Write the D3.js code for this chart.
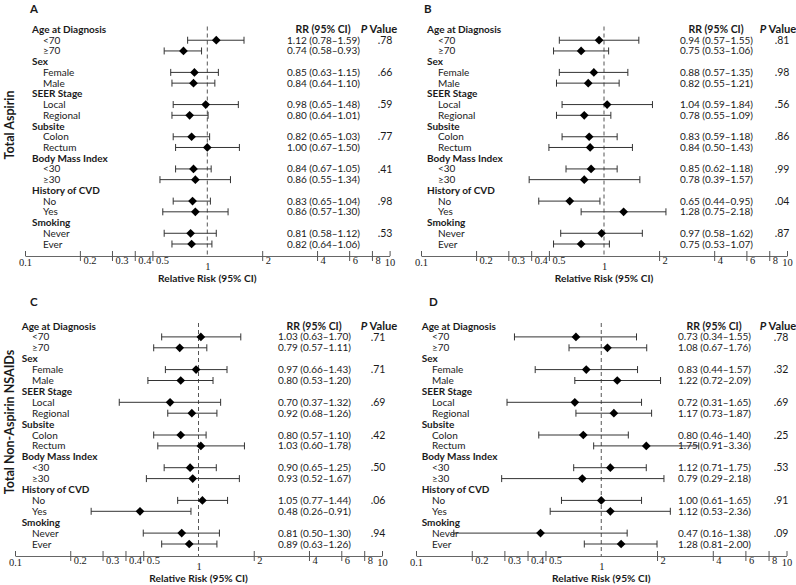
<!DOCTYPE html>
<html><head><meta charset="utf-8">
<script src="https://cdn.jsdelivr.net/npm/d3@7"></script>
<style>
html,body{margin:0;padding:0;background:#fff;}
svg{display:block;}
</style></head>
<body>
<svg id="chart" width="796" height="585"></svg>
<script>
// ---------- DATA ----------
const groups = ["Age at Diagnosis","Sex","SEER Stage","Subsite","Body Mass Index","History of CVD","Smoking"];
const levels = [["<70","≥70"],["Female","Male"],["Local","Regional"],["Colon","Rectum"],["<30","≥30"],["No","Yes"],["Never","Ever"]];

// Panel A: Total Aspirin
const rrA = [1.12,0.74,0.85,0.84,0.98,0.80,0.82,1.00,0.84,0.86,0.83,0.86,0.81,0.82];
const loA = [0.78,0.58,0.63,0.64,0.65,0.64,0.65,0.67,0.67,0.55,0.65,0.57,0.58,0.64];
const hiA = [1.59,0.93,1.15,1.10,1.48,1.01,1.03,1.50,1.05,1.34,1.04,1.30,1.12,1.06];
const pA  = [".78",".66",".59",".77",".41",".98",".53"];

// Panel B: Total Aspirin
const rrB = [0.94,0.75,0.88,0.82,1.04,0.78,0.83,0.84,0.85,0.78,0.65,1.28,0.97,0.75];
const loB = [0.57,0.53,0.57,0.55,0.59,0.55,0.59,0.50,0.62,0.39,0.44,0.75,0.58,0.53];
const hiB = [1.55,1.06,1.35,1.21,1.84,1.09,1.18,1.43,1.18,1.57,0.95,2.18,1.62,1.07];
const pB  = [".81",".98",".56",".86",".99",".04",".87"];

// Panel C: Total Non-Aspirin NSAIDs
const rrC = [1.03,0.79,0.97,0.80,0.70,0.92,0.80,1.03,0.90,0.93,1.05,0.48,0.81,0.89];
const loC = [0.63,0.57,0.66,0.53,0.37,0.68,0.57,0.60,0.65,0.52,0.77,0.26,0.50,0.63];
const hiC = [1.70,1.11,1.43,1.20,1.32,1.26,1.10,1.78,1.25,1.67,1.44,0.91,1.30,1.26];
const pC  = [".71",".71",".69",".42",".50",".06",".94"];

// Panel D: Total Non-Aspirin NSAIDs
const rrD = [0.73,1.08,0.83,1.22,0.72,1.17,0.80,1.75,1.12,0.79,1.00,1.12,0.47,1.28];
const loD = [0.34,0.67,0.44,0.72,0.31,0.73,0.46,0.91,0.71,0.29,0.61,0.53,0.16,0.81];
const hiD = [1.55,1.76,1.57,2.09,1.65,1.87,1.40,3.36,1.75,2.18,1.65,2.36,1.38,2.00];
const pD  = [".78",".32",".69",".25",".53",".91",".09"];

const tickValues = [0.1,0.2,0.3,0.4,0.5,1,2,4,6,8,10];
const tickLabels = ["0.1","0.2","0.3","0.4","0.5","1","2","4","6","8","10"];
const sideLabels = ["Total Aspirin","Total Non-Aspirin NSAIDs"];
const panelLetters = ["A","B","C","D"];

// ---------- LAYOUT ----------
const panels = [
  {letter:panelLetters[0], rr:rrA, lo:loA, hi:hiA, p:pA, lx:30, ly:13, hx:32, sx:43, x0:25, x1:389.6, y0:29.5, y1:244, axisY:256, rrX:287, pX:385, pHX:379},
  {letter:panelLetters[1], rr:rrB, lo:loB, hi:hiB, p:pB, lx:424, ly:13, hx:427, sx:438, x0:421, x1:787, y0:29.5, y1:244, axisY:256, rrX:680, pX:782, pHX:778},
  {letter:panelLetters[2], rr:rrC, lo:loC, hi:hiC, p:pC, lx:30, ly:306, hx:21.7, sx:32, x0:15, x1:382, y0:326, y1:544, axisY:556, rrX:278, pX:378, pHX:379},
  {letter:panelLetters[3], rr:rrD, lo:loD, hi:hiD, p:pD, lx:429, ly:306, hx:421.7, sx:432, x0:416, x1:786.5, y0:326, y1:544, axisY:556, rrX:678, pX:781, pHX:778}
];

const FONT = "Lato, 'Open Sans', sans-serif";
const SERIF = "'Liberation Serif', 'DejaVu Serif', serif";
const INK = "#1a1a1a";
const FS = 10;

const svg = d3.select("#chart");
svg.append("rect").attr("width",796).attr("height",585).attr("fill","#fff");

const rows = [];
groups.forEach((g,gi)=>{
  rows.push({type:"h", text:g, gi});
  levels[gi].forEach((lv,li)=>rows.push({type:"s", text:lv, gi, k:gi*2+li, first:li===0}));
});

const fmt = d3.format(".2f");

panels.forEach(P=>{
  const g = svg.append("g");
  const x = d3.scaleLog().domain([0.1,10]).range([P.x0,P.x1]);
  const y = d3.scaleLinear().domain([0,rows.length-1]).range([P.y0,P.y1]);

  g.append("text").attr("x",P.lx).attr("y",P.ly).text(P.letter)
    .attr("font-family",FONT).attr("font-weight","bold").attr("font-size",11.5).attr("fill",INK);

  g.selectAll("text.row").data(rows).join("text").attr("class","row")
    .attr("x",d=>d.type==="h"?P.hx:P.sx)
    .attr("y",(d,i)=>y(i)).attr("dy","0.35em")
    .attr("font-family",FONT).attr("font-size",FS)
    .attr("font-weight",d=>d.type==="h"?"bold":"normal")
    .attr("fill",INK).text(d=>d.text);

  const subRows = rows.map((d,i)=>({...d,i})).filter(d=>d.type==="s");
  const rrCenter = P.rrX + 36;
  g.append("text").attr("x",rrCenter).attr("y",y(0)).attr("dy","0.35em")
    .attr("text-anchor","middle").attr("font-family",FONT).attr("font-weight","bold")
    .attr("font-size",10.5).attr("fill",INK).text("RR (95% CI)");
  const ph = g.append("text").attr("x",P.pHX).attr("y",y(0)).attr("dy","0.35em")
    .attr("text-anchor","middle").attr("font-family",FONT).attr("font-weight","bold")
    .attr("font-size",11.2).attr("fill",INK);
  ph.append("tspan").attr("font-style","italic").text("P");
  ph.append("tspan").text(" Value");

  g.selectAll("text.rr").data(subRows).join("text").attr("class","rr")
    .attr("x",P.rrX).attr("y",d=>y(d.i)).attr("dy","0.35em")
    .attr("font-family",FONT).attr("font-size",FS).attr("fill",INK)
    .text(d=>`${fmt(P.rr[d.k])} (${fmt(P.lo[d.k])}–${fmt(P.hi[d.k])})`);

  g.selectAll("text.pv").data(subRows.filter(d=>d.first)).join("text").attr("class","pv")
    .attr("x",P.pX).attr("y",d=>y(d.i)).attr("dy","0.35em").attr("text-anchor","middle")
    .attr("font-family",FONT).attr("font-size",FS+0.5).attr("fill",INK)
    .text(d=>P.p[d.gi]);

  g.append("line").attr("x1",x(1)).attr("x2",x(1))
    .attr("y1",P.y0-3).attr("y2",P.axisY)
    .attr("stroke","#555").attr("stroke-width",1).attr("stroke-dasharray","4,3");

  const ci = g.selectAll("g.ci").data(subRows).join("g").attr("class","ci");
  ci.append("line").attr("x1",d=>x(P.lo[d.k])).attr("x2",d=>x(P.hi[d.k]))
    .attr("y1",d=>y(d.i)).attr("y2",d=>y(d.i)).attr("stroke","#333").attr("stroke-width",1);
  ci.append("line").attr("x1",d=>x(P.lo[d.k])).attr("x2",d=>x(P.lo[d.k]))
    .attr("y1",d=>y(d.i)-3.5).attr("y2",d=>y(d.i)+3.5).attr("stroke","#333").attr("stroke-width",1);
  ci.append("line").attr("x1",d=>x(P.hi[d.k])).attr("x2",d=>x(P.hi[d.k]))
    .attr("y1",d=>y(d.i)-3.5).attr("y2",d=>y(d.i)+3.5).attr("stroke","#333").attr("stroke-width",1);
  ci.append("path").attr("d",d3.symbol(d3.symbolSquare,38))
    .attr("transform",d=>`translate(${x(P.rr[d.k])},${y(d.i)}) rotate(45)`)
    .attr("fill","#000");

  const axis = d3.axisBottom(x).tickValues(tickValues)
    .tickFormat((d,i)=>tickLabels[i]).tickSize(5).tickSizeOuter(0);
  const ag = g.append("g").attr("transform",`translate(0,${P.axisY})`).call(axis);
  ag.select(".domain").attr("stroke","#666").attr("stroke-width",1);
  ag.selectAll(".tick line").attr("stroke","#555")
    .attr("y1",d=>d===1?0:-5)
    .attr("y2",d=>(d===1||d===0.1||d===10)?0:5);
  const edge = d=>(d===0.1||d===1||d===10);
  ag.selectAll(".tick text")
    .attr("font-family",SERIF).attr("font-size",10.5).attr("fill",INK)
    .attr("text-anchor",d=>edge(d)?"middle":"start")
    .attr("y",d=>(d===1)?7:((d===0.1||d===10)?3:1))
    .attr("dx",d=>edge(d)?0:3);

  g.append("text").attr("x",x(1)).attr("y",P.axisY+22).attr("dy","0.35em")
    .attr("text-anchor","middle").attr("font-family",FONT).attr("font-weight","bold")
    .attr("font-size",10.2).attr("fill",INK).text("Relative Risk (95% CI)");
});

[[10,125],[10,422]].forEach((c,i)=>{
  svg.append("text").attr("transform",`translate(${c[0]},${c[1]}) rotate(-90)`)
    .attr("dy","0.35em").attr("text-anchor","middle")
    .attr("font-family",FONT).attr("font-weight","bold").attr("font-size",12.5)
    .attr("fill",INK).text(sideLabels[i]);
});
</script>
</body></html>
